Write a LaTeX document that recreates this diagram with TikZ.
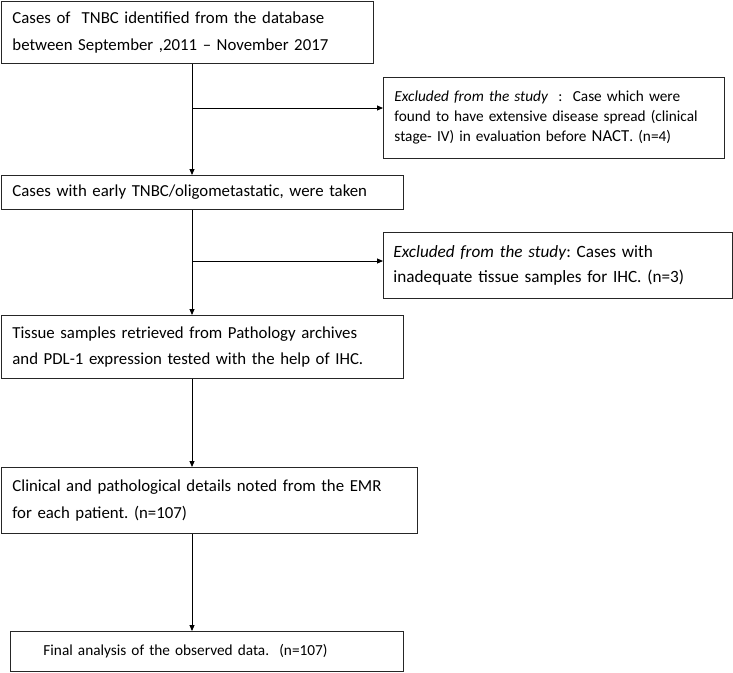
\documentclass[tikz,border=0pt]{standalone}
\usepackage{fontspec}
\setmainfont{Carlito}
\usetikzlibrary{arrows.meta}
\frenchspacing
\begin{document}
\begin{tikzpicture}[x=1pt,y=-1pt,
  box/.style={draw=black!85,line width=0.9pt,rectangle,align=left,inner ysep=0pt,anchor=north west},
  mainf/.style={font=\fontsize{16.8}{26.7}\selectfont},
  exf/.style={font=\fontsize{15.3}{20}\selectfont},
  arr/.style={draw=black,line width=0.9pt,-{Triangle[length=6pt,width=5pt]}},
  ln/.style={draw=black,line width=0.9pt}]
\useasboundingbox (0,0) rectangle (733,672);
% boxes
\node[box,mainf,inner xsep=11pt,text width=350pt,minimum height=62pt] (b1) at (1,1)
  {Cases of\ \ TNBC identified from the database\\between September ,2011 -- November 2017};
\node[box,exf,inner xsep=11pt,text width=319pt,minimum height=81pt] (b2) at (383,77)
  {\textit{Excluded from the study}\ \ :\ \ Case which were\\found to have extensive disease spread (clinical\\stage- IV) in evaluation before {\fontsize{16.8}{20}\selectfont NACT}. (n=4)};
\node[box,mainf,inner xsep=11pt,text width=380pt,minimum height=34pt] (b3) at (1,175)
  {Cases with early TNBC/oligometastatic, were taken};
\node[box,inner xsep=10pt,text width=329pt,minimum height=66pt,font=\fontsize{17.2}{24.5}\selectfont] (b4) at (383,232)
  {\textit{Excluded from the study}: Cases with\\inadequate tissue samples for IHC. (n=3)};
\node[box,mainf,inner xsep=11pt,text width=380pt,minimum height=63pt] (b5) at (1,315)
  {Tissue samples retrieved from Pathology archives\\and PDL-1 expression tested with the help of IHC.};
\node[box,mainf,inner xsep=11pt,text width=394pt,minimum height=66pt] (b6) at (1,467)
  {Clinical and pathological details noted from the EMR\\for each patient. (n=107)};
\node[box,exf,inner xsep=33pt,text width=327pt,minimum height=40pt] (b7) at (10,631)
  {Final analysis of the observed data.\ \ (n=107)};
% connectors
\coordinate (spine) at (192,0);
\coordinate (j1) at (192,108);
\coordinate (j2) at (192,261);
\draw[arr] (b1.south -| spine) -- (b3.north -| spine);
\draw[arr] (j1) -- (j1 -| b2.west);
\draw[arr] (b3.south -| spine) -- (b5.north -| spine);
\draw[arr] (j2) -- (j2 -| b4.west);
\draw[arr] (b5.south -| spine) -- (b6.north -| spine);
\draw[arr] (b6.south -| spine) -- (b7.north -| spine);
\end{tikzpicture}
\end{document}
